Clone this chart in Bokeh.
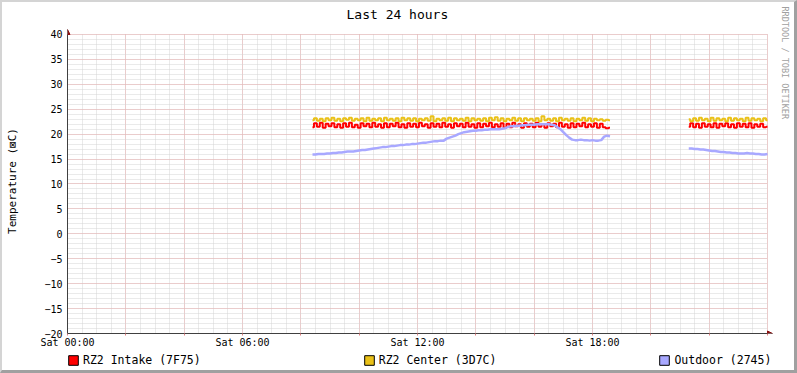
import numpy as np
from bokeh.plotting import figure
from bokeh.layouts import column
from bokeh.models import (Range1d, FixedTicker, Legend, LegendItem, Arrow,
                          NormalHead, ColumnDataSource, Title, Grid)
from bokeh.embed import file_html
from bokeh.resources import INLINE

# ---------------- data ----------------
title_text = "Last 24 hours"
y_label = "Temperature (\u22a0C)"
credit = "RRDTOOL / TOBI OETIKER"
x_tick_hours = [0, 6, 12, 18]
x_tick_labels = ["Sat 00:00", "Sat 06:00", "Sat 12:00", "Sat 18:00"]
series_names = ["RZ2 Intake (7F75)", "RZ2 Center (3D7C)", "Outdoor (2745)"]
series_colors = ["#FF0000", "#EAC117", "#A8A8FF"]

# sample times (hours after Sat 00:00), 6-minute samples, two recorded periods
t_seg1 = np.round(np.arange(8.4, 18.61, 0.1), 2)   # 103 samples
t_seg2 = np.round(np.arange(21.3, 24.01, 0.1), 2)  # 28 samples

intake_seg1 = [
    21.4, 22.2, 21.5, 22.3, 21.3, 22.1, 21.6, 22.2, 21.4, 22.0,
    21.3, 22.2, 21.5, 22.3, 21.4, 21.9, 21.3, 22.2, 21.6, 22.1,
    21.4, 22.3, 21.5, 22.0, 21.3, 22.2, 21.4, 22.1, 21.6, 22.3,
    21.4, 22.0, 21.3, 22.2, 21.5, 22.1, 21.4, 22.3, 21.6, 22.0,
    21.3, 22.2, 21.5, 22.1, 21.4, 22.3, 21.5, 22.0, 21.3, 22.2,
    21.6, 22.1, 21.4, 22.3, 21.5, 22.0, 21.3, 22.2, 21.4, 22.1,
    21.6, 22.3, 21.4, 22.0, 21.5, 22.2, 21.3, 22.1, 21.4, 22.3,
    21.6, 22.0, 21.3, 22.2, 21.5, 22.1, 21.4, 22.3, 21.5, 22.0,
    21.3, 22.2, 21.6, 22.1, 21.4, 22.3, 21.5, 22.0, 21.3, 22.2,
    21.4, 22.1, 21.6, 22.3, 21.4, 22.0, 21.5, 22.2, 21.3, 22.1,
    21.4, 21.2, 21.3]
center_seg1 = [
    22.8, 23.2, 22.7, 23.1, 22.6, 23.2, 22.8, 23.3, 22.7, 23.1,
    22.6, 23.2, 22.9, 23.3, 22.7, 23.1, 22.8, 23.2, 22.6, 23.3,
    22.7, 23.1, 22.8, 23.2, 22.6, 23.3, 22.8, 23.1, 22.7, 23.2,
    22.6, 23.3, 22.8, 23.2, 22.7, 23.2, 22.6, 23.1, 22.8, 23.2,
    22.7, 23.6, 22.6, 23.1, 22.8, 23.2, 22.7, 23.3, 22.6, 23.2,
    22.8, 23.1, 22.7, 23.3, 22.6, 23.2, 22.8, 23.1, 22.7, 23.2,
    22.6, 23.3, 22.8, 23.4, 22.7, 23.2, 22.6, 23.1, 22.8, 23.3,
    22.7, 23.2, 22.6, 23.2, 22.8, 23.1, 22.7, 23.2, 22.6, 23.6,
    22.8, 23.1, 22.7, 23.2, 22.6, 23.3, 22.8, 23.1, 22.7, 23.2,
    22.6, 23.1, 22.8, 23.3, 22.7, 23.2, 22.6, 23.1, 22.8, 23.0,
    22.7, 22.9, 22.8]
outdoor_seg1 = [
    15.9, 15.9, 16.0, 16.0, 16.0, 16.1, 16.1, 16.2, 16.2, 16.3,
    16.3, 16.4, 16.5, 16.5, 16.5, 16.6, 16.7, 16.8, 16.8, 16.9,
    17.0, 17.1, 17.2, 17.3, 17.4, 17.4, 17.5, 17.6, 17.6, 17.7,
    17.8, 17.8, 17.9, 17.9, 18.0, 18.0, 18.1, 18.2, 18.3, 18.3,
    18.4, 18.5, 18.6, 18.6, 18.7, 18.7, 19.1, 19.3, 19.5, 19.7,
    20.0, 20.2, 20.4, 20.5, 20.6, 20.7, 20.7, 20.8, 20.8, 20.9,
    20.9, 21.0, 21.0, 21.0, 21.0, 21.1, 21.2, 21.4, 21.6, 21.6,
    21.7, 21.7, 21.8, 21.8, 21.9, 21.9, 21.9, 22.0, 22.0, 22.0,
    22.0, 22.0, 21.9, 21.8, 21.4, 21.0, 20.4, 19.8, 19.3, 18.9,
    18.8, 18.8, 18.9, 18.8, 18.8, 18.7, 18.8, 18.7, 18.7, 18.8,
    19.5, 19.7, 19.6]

intake_seg2 = [
    21.5, 22.2, 21.4, 22.1, 21.3, 22.2, 21.5, 22.0, 21.4, 22.2,
    21.3, 22.1, 21.6, 22.2, 21.4, 22.0, 21.3, 22.2, 21.5, 22.1,
    21.4, 22.2, 21.3, 22.0, 21.5, 22.1, 21.4, 21.5]
center_seg2 = [
    23.0, 22.6, 23.2, 22.7, 23.3, 22.8, 23.1, 22.6, 23.3, 22.7,
    23.2, 22.8, 23.1, 22.6, 23.3, 22.7, 23.2, 22.8, 23.1, 22.6,
    23.3, 22.7, 23.2, 22.8, 23.1, 22.6, 23.2, 22.8]
outdoor_seg2 = [
    17.1, 17.1, 17.0, 17.0, 16.9, 16.9, 16.8, 16.7, 16.6, 16.6,
    16.5, 16.4, 16.4, 16.3, 16.3, 16.2, 16.2, 16.1, 16.1, 16.1,
    16.2, 16.1, 16.1, 16.0, 16.0, 15.9, 15.9, 16.0]

gap = [np.nan]
src = ColumnDataSource(dict(
    t=np.concatenate([t_seg1, gap, t_seg2]),
    intake=np.concatenate([intake_seg1, gap, intake_seg2]),
    center=np.concatenate([center_seg1, gap, center_seg2]),
    outdoor=np.concatenate([outdoor_seg1, gap, outdoor_seg2]),
))

# ---------------- main figure ----------------
FONT = "DejaVu Sans Mono"
X_MAX, Y_MIN, Y_MAX = 24, -20, 40
x_pad = 6 / 29.1667   # room for the axis arrow heads (6 px)
y_pad = 6 / 5.0

p = figure(width=792, height=348, output_backend="svg", toolbar_location=None,
           x_range=Range1d(0, X_MAX + x_pad), y_range=Range1d(Y_MIN, Y_MAX + y_pad),
           min_border_left=65, min_border_right=21, min_border_top=25,
           min_border_bottom=17, title=title_text)
p.background_fill_color = "white"
p.border_fill_color = "white"
p.outline_line_color = None

# title
p.title.text_font = FONT
p.title.text_font_size = "13px"
p.title.text_font_style = "normal"
p.title.text_color = "black"
p.title.align = "left"
p.title.offset = 279
p.title.vertical_align = "top"
p.title.standoff = 9

# credit on the right
p.add_layout(Title(text=credit, align="left", offset=-22, standoff=9,
                   vertical_align="top",
                   text_font=FONT, text_font_size="8.5px", text_font_style="normal",
                   text_color="#A0A0A0"), "right")

# grids
p.xgrid.ticker = FixedTicker(ticks=list(range(0, 25, 2)),
                             minor_ticks=[i * 0.5 for i in range(49)])
p.ygrid.ticker = FixedTicker(ticks=list(range(-20, 41, 5)),
                             minor_ticks=list(range(-20, 41)))
has_cross = "cross_bounds" in Grid.properties()
for g in p.select(type=Grid):
    g.grid_line_color = "#EBAFAF"
    g.grid_line_dash = "1 1"
    g.grid_line_width = 1
    g.minor_grid_line_color = "#D4D4D4"
    g.minor_grid_line_dash = "1 1"
    g.minor_grid_line_width = 1
    if has_cross:
        g.cross_bounds = (Y_MIN, Y_MAX) if g.dimension == 0 else (0, X_MAX)

# axes
p.xaxis.ticker = FixedTicker(ticks=list(range(0, 25, 2)))
overrides = {h: "" for h in range(0, 25, 2)}
for h, lab in zip(x_tick_hours, x_tick_labels):
    overrides[h] = lab
p.xaxis.major_label_overrides = overrides
p.yaxis.ticker = FixedTicker(ticks=list(range(-20, 41, 5)))
p.xaxis.bounds = (0, X_MAX)
p.yaxis.bounds = (Y_MIN, Y_MAX)
for ax in (p.xaxis, p.yaxis):
    ax.axis_line_color = "#404040"
    ax.axis_line_width = 1
    ax.minor_tick_line_color = None
    ax.major_label_text_font = FONT
    ax.major_label_text_font_size = "10px"
    ax.major_label_text_color = "black"
p.xaxis.major_tick_line_color = "#E08080"
p.xaxis.major_tick_out = 2
p.xaxis.major_tick_in = 0
p.xaxis.major_label_standoff = 1
p.yaxis.major_tick_line_color = None
p.yaxis.major_tick_out = 0
p.yaxis.major_tick_in = 0
p.yaxis.major_label_standoff = 5
p.yaxis.axis_label = y_label
p.yaxis.axis_label_text_font = FONT
p.yaxis.axis_label_text_font_size = "11px"
p.yaxis.axis_label_text_font_style = "normal"
p.yaxis.axis_label_text_color = "black"
p.yaxis.axis_label_standoff = 22

# axis arrows
p.add_layout(Arrow(x_start=X_MAX, y_start=Y_MIN, x_end=X_MAX + 5 / 29.1667, y_end=Y_MIN,
                   line_color="#404040", line_width=1,
                   end=NormalHead(size=5, fill_color="#8B1010", line_color="#8B1010")))
p.add_layout(Arrow(x_start=0, y_start=Y_MAX, x_end=0, y_end=Y_MAX + 5 / 5.0,
                   line_color="#404040", line_width=1,
                   end=NormalHead(size=5, fill_color="#8B1010", line_color="#8B1010")))

# series
p.step("t", "intake", source=src, line_color=series_colors[0], line_width=2, mode="center")
p.step("t", "center", source=src, line_color=series_colors[1], line_width=2, mode="center")
p.line("t", "outdoor", source=src, line_color=series_colors[2], line_width=2.5)

# ---------------- legend strip ----------------
lf = figure(width=792, height=20, output_backend="svg", toolbar_location=None,
            x_range=Range1d(0, 1), y_range=Range1d(0, 1), title=None,
            x_axis_location=None, y_axis_location=None,
            min_border_left=65, min_border_right=21, min_border_top=0, min_border_bottom=0)
lf.grid.visible = False
lf.outline_line_color = None
lf.background_fill_color = "white"
lf.border_fill_color = "white"
items = []
for name, color in zip(series_names, series_colors):
    # swatch renderer: a single undrawn (NaN) point, only used for the legend glyph
    sw = lf.rect(x=[np.nan], y=[np.nan], width=1, height=1,
                 fill_color=color, line_color="black")
    items.append(LegendItem(label=name, renderers=[sw]))
leg = Legend(items=items, location=(0, 3), orientation="horizontal",
             padding=0, margin=0, spacing=162,
             border_line_alpha=0, background_fill_alpha=0,
             glyph_width=12, glyph_height=12, label_standoff=4,
             label_text_font=FONT, label_text_font_size="11.5px",
             label_text_color="black", label_height=12)
lf.add_layout(leg)

layout = column(p, lf, spacing=0,
                styles={"border-top": "2px solid #D4D4D4", "border-left": "2px solid #D4D4D4",
                        "border-right": "3px solid #A0A0A0", "border-bottom": "3px solid #A0A0A0"})

open("out.html", "w").write(file_html(layout, INLINE))
